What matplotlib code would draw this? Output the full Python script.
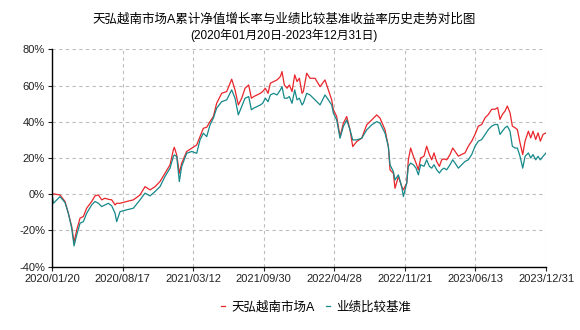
import matplotlib
matplotlib.use('Agg')
import matplotlib.pyplot as plt
import numpy as np

plt.rcParams['font.family'] = ['Liberation Sans', 'Noto Sans CJK SC', 'DejaVu Sans']

# positions along the x axis, measured in tick intervals (0 = 2020/01/20, 7 = 2023/12/31)
fund_x = [0, 0.02, 0.113, 0.184, 0.231, 0.279, 0.312, 0.35, 0.397, 0.444, 0.491, 0.562, 0.609,
          0.657, 0.704, 0.751, 0.798, 0.846, 0.893, 0.916, 0.964, 1.058, 1.153, 1.247, 1.318,
          1.389, 1.46, 1.53, 1.601, 1.672, 1.719, 1.733, 1.767, 1.804, 1.837, 1.908, 1.979,
          2.05, 2.097, 2.144, 2.192, 2.239, 2.286, 2.333, 2.404, 2.475, 2.546, 2.593, 2.64,
          2.688, 2.735, 2.787, 2.825, 2.858, 2.905, 2.952, 2.985, 3.023, 3.061, 3.094, 3.141,
          3.188, 3.236, 3.259, 3.292, 3.330, 3.363, 3.401, 3.439, 3.472, 3.505, 3.543, 3.561,
          3.609, 3.656, 3.727, 3.798, 3.868, 3.916,
          3.963, 3.987, 4.034, 4.081, 4.128, 4.176, 4.223, 4.261, 4.317, 4.388, 4.459, 4.53,
          4.601, 4.648, 4.719, 4.766, 4.79, 4.837, 4.86, 4.908, 4.955, 4.979, 5.026, 5.049,
          5.082, 5.120, 5.158, 5.191, 5.224, 5.271, 5.309, 5.347, 5.380, 5.413, 5.451, 5.489,
          5.522, 5.555, 5.593, 5.640, 5.678, 5.711, 5.758, 5.805, 5.852, 5.899, 5.947, 5.994,
          6.041, 6.089, 6.136, 6.183, 6.230, 6.277, 6.315, 6.348, 6.381, 6.419, 6.452, 6.490,
          6.523, 6.561, 6.594, 6.632, 6.670, 6.703, 6.750, 6.783, 6.816, 6.854, 6.887, 6.920,
          6.958, 7.0]

fund = [0.0, 0.2, -0.4, -4.0, -10.5, -17.8, -26.5, -19.7, -13.2, -12.3, -7.7, -4.0, -0.9,
        -0.4, -3.1, -2.2, -2.8, -3.1, -5.9, -5.0, -5.0, -4.0, -3.1, -0.4, 4.2,
        2.4, 4.2, 7.0, 11.6, 16.2, 24.5, 25.9, 21.7, 11.6, 17.1, 23.6, 25.4,
        27.2, 31.8, 36.4, 37.0, 40.1, 42.9, 50.2, 55.7, 56.7, 63.5, 57.6, 49.3,
        53.0, 58.5, 60.3, 53.0, 53.9, 54.8, 55.7, 56.7, 58.5, 55.7, 61.3, 62.2,
        63.1, 65.0, 67.7, 60.3, 58.5, 60.3, 56.7, 65.9, 62.2, 64.0, 55.7, 56.7,
        66.8, 64.0, 64.0, 59.4, 63.1, 57.6,
        52.1, 46.6, 42.9, 31.8, 39.2, 42.9, 35.5, 26.3, 29.1, 30.9, 38.3, 41.0,
        43.8, 42.0, 35.5, 26.3, 13.4, 11.6, 3.3, 9.8, 4.2, 2.4, 6.1, 19.0,
        25.5, 21.0, 17.2, 13.5, 20.0, 21.0, 26.5, 21.9, 19.0, 22.8, 18.0, 15.4,
        19.0, 19.5, 19.0, 21.9, 25.5, 23.7, 21.0, 22.0, 22.8, 26.5, 29.3, 33.0,
        37.6, 38.5, 42.2, 44.0, 46.9, 46.9, 47.8, 41.3, 44.0, 45.9, 48.7, 45.0,
        37.6, 36.7, 35.7, 28.3, 21.9, 29.3, 34.8, 31.1, 34.8, 30.2, 33.9, 29.3,
        33.0, 33.9]

bench = [0.0, -5.0, -1.3, -4.6, -10.5, -18.8, -28.5, -22.4, -16.0, -15.1, -10.5, -5.9, -4.0,
         -5.0, -6.8, -5.9, -5.0, -6.4, -10.5, -15.1, -9.6, -8.6, -7.7, -3.1, 0.6,
         -0.9, 1.5, 4.2, 9.8, 14.4, 20.8, 21.7, 20.8, 7.0, 15.3, 22.6, 23.6,
         22.6, 30.0, 33.7, 31.8, 38.3, 42.0, 47.5, 51.1, 52.1, 57.6, 53.0, 43.8,
         48.4, 53.0, 53.9, 46.6, 47.5, 48.4, 49.3, 50.2, 53.0, 51.1, 54.8, 55.7,
         54.8, 57.6, 59.4, 53.0, 53.0, 53.9, 50.2, 57.6, 52.1, 53.0, 49.3, 50.2,
         55.7, 54.8, 52.1, 49.3, 54.8, 52.1,
         49.3, 44.7, 41.0, 30.9, 37.4, 41.0, 35.5, 30.0, 30.0, 30.9, 35.5, 38.3,
         40.1, 39.2, 33.7, 26.3, 16.2, 12.5, 7.9, 10.7, 4.2, -1.3, 6.1, 15.4,
         17.2, 16.3, 14.4, 10.7, 16.3, 15.4, 19.0, 15.4, 14.4, 16.3, 13.5, 11.7,
         13.5, 14.4, 13.5, 16.3, 19.0, 17.2, 14.4, 16.3, 18.1, 19.0, 21.9, 26.5,
         29.3, 30.2, 33.0, 35.7, 37.6, 38.5, 38.5, 33.0, 34.8, 36.7, 37.6, 34.8,
         26.5, 25.5, 25.5, 20.9, 14.4, 20.9, 22.8, 20.0, 21.9, 19.0, 20.9, 19.0,
         20.9, 22.8]

tick_labels = ['2020/01/20', '2020/08/17', '2021/03/12', '2021/09/30',
               '2022/04/28', '2022/11/21', '2023/06/13', '2023/12/31']
y_ticks = [-40, -20, 0, 20, 40, 60, 80]

fig = plt.figure(figsize=(5.8, 3.3), dpi=100)
ax = fig.add_axes([0.0897, 0.1918, 0.8517, 0.6588])

l1, = ax.plot(fund_x, fund, color='#e8262b', lw=0.9)
l2, = ax.plot(fund_x, bench, color='#16898a', lw=0.9)

ax.set_xlim(0, 7)
ax.set_ylim(-40, 80)
ax.set_xticks(range(len(tick_labels)))
ax.set_xticklabels(tick_labels, fontsize=8)
ax.set_yticks(y_ticks)
ax.set_yticklabels(['%d%%' % v for v in y_ticks], fontsize=8)
ax.tick_params(length=3, width=0.8, pad=2, colors='#222222')
ax.grid(True, color='#bdbdbd', linestyle=(0, (3, 3)), linewidth=0.8)
ax.spines['top'].set_visible(False)
ax.spines['right'].set_visible(False)
ax.spines['left'].set_linewidth(1)
ax.spines['bottom'].set_linewidth(1)

fig.text(0.49, 0.94, '天弘越南市场A累计净值增长率与业绩比较基准收益率历史走势对比图',
         ha='center', va='center', fontsize=9)
fig.text(0.49, 0.893, '(2020年01月20日-2023年12月31日)', ha='center', va='center', fontsize=8.5)

fig.legend([l1, l2], ['天弘越南市场A', '业绩比较基准'], loc='center', bbox_to_anchor=(0.545, 0.068),
           ncol=2, frameon=False, fontsize=9, handlelength=0.35, handletextpad=0.5,
           columnspacing=0.9)

fig.savefig('out.png', dpi=100)
